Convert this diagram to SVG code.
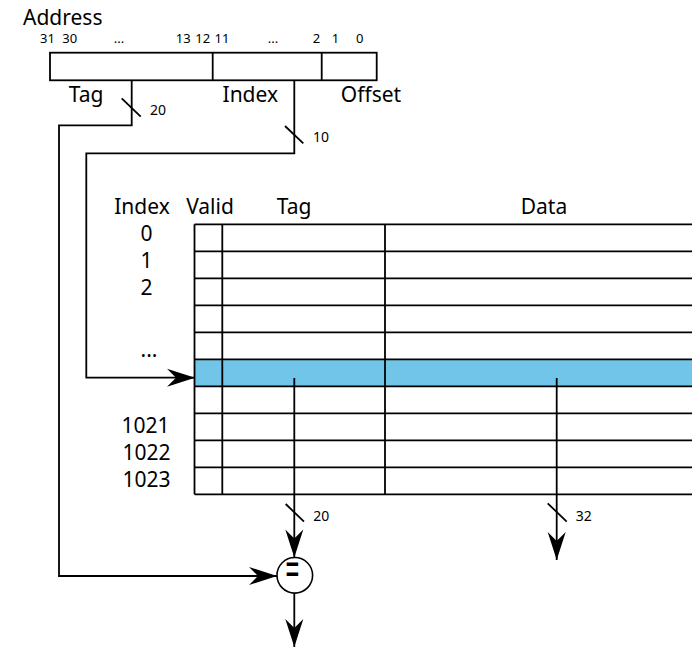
<svg xmlns="http://www.w3.org/2000/svg" width="692" height="648" viewBox="0 0 692 648">
<style>
text{font-family:"Noto Sans","DejaVu Sans",sans-serif;fill:#000}
.big{font-size:21px}
.sm{font-size:13px}
.lb{font-size:14px}
.c{text-anchor:middle}
.ln{fill:none;stroke:#000;stroke-width:1.8}
.tb{fill:none;stroke:#000;stroke-width:1.8}
</style>
<defs>
<marker id="ah" viewBox="-29 -10 30 20" markerWidth="30" markerHeight="20" refX="0" refY="0" markerUnits="userSpaceOnUse" orient="auto">
<path d="M0,0 L-28,-9 L-19,0 L-28,9 Z" fill="#000"/>
</marker>
</defs>
<g id="address">
<text class="big" x="23" y="25">Address</text>
<text class="sm" x="40" y="43" word-spacing="4">31 30</text>
<text class="sm c" x="119" y="43">...</text>
<text class="sm c" x="183.3" y="43">13</text>
<text class="sm c" x="202.8" y="43">12</text>
<text class="sm c" x="222" y="43">11</text>
<text class="sm c" x="273" y="43">...</text>
<text class="sm c" x="316.5" y="43">2</text>
<text class="sm c" x="335.5" y="43">1</text>
<text class="sm c" x="359.7" y="43">0</text>
<rect class="tb" x="50" y="52.7" width="326.7" height="27.6"/>
<line class="tb" x1="212.7" y1="52.7" x2="212.7" y2="80.3"/>
<line class="tb" x1="321.7" y1="52.7" x2="321.7" y2="80.3"/>
<text class="big c" x="86" y="101.7">Tag</text>
<text class="big c" x="250.3" y="101.7">Index</text>
<text class="big c" x="371" y="101.7">Offset</text>
</g>
<g id="cache">
<rect x="194.5" y="359.3" width="500" height="27" fill="#71C5E8"/>
<g class="tb">
<line x1="194.5" y1="224.3" x2="692" y2="224.3"/>
<line x1="194.5" y1="251.3" x2="692" y2="251.3"/>
<line x1="194.5" y1="278.3" x2="692" y2="278.3"/>
<line x1="194.5" y1="305.3" x2="692" y2="305.3"/>
<line x1="194.5" y1="332.3" x2="692" y2="332.3"/>
<line x1="194.5" y1="359.3" x2="692" y2="359.3"/>
<line x1="194.5" y1="386.3" x2="692" y2="386.3"/>
<line x1="194.5" y1="413.3" x2="692" y2="413.3"/>
<line x1="194.5" y1="440.3" x2="692" y2="440.3"/>
<line x1="194.5" y1="467.3" x2="692" y2="467.3"/>
<line x1="194.5" y1="494.3" x2="692" y2="494.3"/>
<line x1="194.5" y1="224.3" x2="194.5" y2="494.3"/>
<line x1="222.3" y1="224.3" x2="222.3" y2="494.3"/>
<line x1="385" y1="224.3" x2="385" y2="494.3"/>
</g>
<text class="big c" x="142" y="214">Index</text>
<text class="big c" x="210" y="214">Valid</text>
<text class="big c" x="294" y="214">Tag</text>
<text class="big c" x="544" y="214">Data</text>
<text class="big c" x="146.5" y="240.7">0</text>
<text class="big c" x="146.5" y="267.7">1</text>
<text class="big c" x="146.5" y="294.5">2</text>
<text class="big c" x="149" y="357">...</text>
<text class="big c" x="145.5" y="433.3">1021</text>
<text class="big c" x="146.5" y="460.3">1022</text>
<text class="big c" x="146.5" y="487">1023</text>
</g>
<g id="comparator">
<circle cx="294.8" cy="575.3" r="17.8" fill="#fff" stroke="#000" stroke-width="1.6"/>
<text class="c" font-size="25" transform="translate(292.5,587.4) scale(1,1.95)">=</text>
</g>
<g id="connectors">
<polyline class="ln" points="131.7,80.3 131.7,125.3 59,125.3 59,576 277,576" marker-end="url(#ah)"/>
<polyline class="ln" points="294.3,80.3 294.3,153.3 86.3,153.3 86.3,377.7 195,377.7" marker-end="url(#ah)"/>
<line class="ln" x1="294.3" y1="378" x2="294.3" y2="557.5" marker-end="url(#ah)"/>
<line class="ln" x1="556.7" y1="378" x2="556.7" y2="560" marker-end="url(#ah)"/>
<line class="ln" x1="294.3" y1="593.3" x2="294.3" y2="647" marker-end="url(#ah)"/>
<line class="ln" x1="121.7" y1="98.3" x2="140.7" y2="116.7"/>
<line class="ln" x1="285" y1="126" x2="303.3" y2="143.3"/>
<line class="ln" x1="285.7" y1="504" x2="304" y2="521.7"/>
<line class="ln" x1="547.7" y1="503.3" x2="566.7" y2="521.7"/>
<text class="lb" x="150" y="115">20</text>
<text class="lb" x="313" y="141.7">10</text>
<text class="lb" x="313.3" y="520.7">20</text>
<text class="lb" x="575.7" y="521">32</text>
</g>
</svg>
